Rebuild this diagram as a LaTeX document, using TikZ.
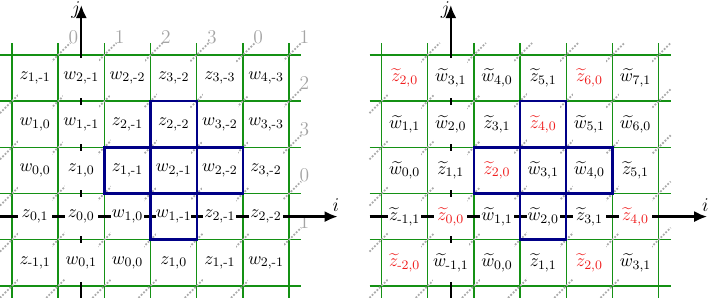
\documentclass[tikz,border=0pt]{standalone}
\usepackage{amsmath}
\usetikzlibrary{arrows.meta}
\definecolor{gridgreen}{RGB}{20,145,20}
\definecolor{navyb}{RGB}{0,0,135}
\definecolor{diagc}{RGB}{170,170,170}
\definecolor{numc}{RGB}{165,165,165}
\definecolor{redc}{RGB}{240,30,30}
\newcommand{\mneg}{\text{-}}
\newcommand{\tw}{\widetilde{w}}
\newcommand{\tz}{\widetilde{z}}
\begin{document}
\begin{tikzpicture}[
  gridline/.style={gridgreen, line width=0.9pt},
  diagline/.style={diagc, line width=1.1pt, densely dotted},
  axisline/.style={line width=1.4pt, -{Latex[length=2.8mm,width=2.4mm]}},
  cell/.style={fill=white, inner sep=0pt, minimum width=0.72cm, minimum height=0.85cm, font=\fontsize{11}{13}\selectfont},
  rcell/.style={cell, text=redc},
  hl/.style={navyb, line width=1.5pt},
  num/.style={numc, font=\large, inner sep=0pt},
  axlbl/.style={font=\large, inner sep=0pt}
]
\useasboundingbox (-0.26,-0.26) rectangle (15.09,6.19);

% grids and diagonals
\foreach \ox in {0,8} {
  \foreach \x in {0,...,6} \draw[gridline] (\ox+\x,-0.26) -- (\ox+\x,5.26);
  \foreach \y in {0,...,5} \draw[gridline] (\ox-0.26,\y) -- (\ox+6.26,\y);
  \foreach \c in {4,3,...,-5} {
    \pgfmathsetmacro\sx{max(-0.26,-0.26-\c)}
    \pgfmathsetmacro\sy{\sx+\c}
    \pgfmathsetmacro\ex{min(6,5-\c)}
    \pgfmathsetmacro\ey{\ex+\c}
    \draw[diagline] (\ox+\sx,\sy) -- (\ox+\ex+0.26,\ey+0.26);
  }
}
% gray numbers (left panel only)
\foreach \c in {4,3,...,-5} {
  \pgfmathsetmacro\ex{min(6,5-\c)}
  \pgfmathsetmacro\ey{\ex+\c}
  \pgfmathtruncatemacro\dg{mod(4-\c,4)}
  \node[num] (n\dg\c) at (\ex+0.33,\ey+0.39) {\dg};
}

% axes
\foreach \ox/\p in {0/a,8/b} {
  \coordinate (jb\p) at (\ox+1.5,-0.26);
  \coordinate (jt\p) at (\ox+1.5,6.08);
  \coordinate (ib\p) at (\ox-0.26,1.5);
  \coordinate (it\p) at (\ox+7.05,1.5);
  \draw[axisline] (jb\p) -- (jt\p);
  \draw[axisline] (ib\p) -- (it\p);
}

% left panel labels
\node[cell] (a00) at (0.5,4.5) {$z_{1,\mneg1}$};
\node[cell] (a01) at (1.5,4.5) {$w_{2,\mneg1}$};
\node[cell] (a02) at (2.5,4.5) {$w_{2,\mneg2}$};
\node[cell] (a03) at (3.5,4.5) {$z_{3,\mneg2}$};
\node[cell] (a04) at (4.5,4.5) {$z_{3,\mneg3}$};
\node[cell] (a05) at (5.5,4.5) {$w_{4,\mneg3}$};
\node[cell] (a10) at (0.5,3.5) {$w_{1,0}$};
\node[cell] (a11) at (1.5,3.5) {$w_{1,\mneg1}$};
\node[cell] (a12) at (2.5,3.5) {$z_{2,\mneg1}$};
\node[cell] (a13) at (3.5,3.5) {$z_{2,\mneg2}$};
\node[cell] (a14) at (4.5,3.5) {$w_{3,\mneg2}$};
\node[cell] (a15) at (5.5,3.5) {$w_{3,\mneg3}$};
\node[cell] (a20) at (0.5,2.5) {$w_{0,0}$};
\node[cell] (a21) at (1.5,2.5) {$z_{1,0}$};
\node[cell] (a22) at (2.5,2.5) {$z_{1,\mneg1}$};
\node[cell] (a23) at (3.5,2.5) {$w_{2,\mneg1}$};
\node[cell] (a24) at (4.5,2.5) {$w_{2,\mneg2}$};
\node[cell] (a25) at (5.5,2.5) {$z_{3,\mneg2}$};
\node[cell] (a30) at (0.5,1.5) {$z_{0,1}$};
\node[cell] (a31) at (1.5,1.5) {$z_{0,0}$};
\node[cell] (a32) at (2.5,1.5) {$w_{1,0}$};
\node[cell] (a33) at (3.5,1.5) {$w_{1,\mneg1}$};
\node[cell] (a34) at (4.5,1.5) {$z_{2,\mneg1}$};
\node[cell] (a35) at (5.5,1.5) {$z_{2,\mneg2}$};
\node[cell] (a40) at (0.5,0.5) {$z_{\mneg1,1}$};
\node[cell] (a41) at (1.5,0.5) {$w_{0,1}$};
\node[cell] (a42) at (2.5,0.5) {$w_{0,0}$};
\node[cell] (a43) at (3.5,0.5) {$z_{1,0}$};
\node[cell] (a44) at (4.5,0.5) {$z_{1,\mneg1}$};
\node[cell] (a45) at (5.5,0.5) {$w_{2,\mneg1}$};

% right panel labels
\node[rcell] (b00) at (8.5,4.5) {$\tz_{2,0}$};
\node[cell] (b01) at (9.5,4.5) {$\tw_{3,1}$};
\node[cell] (b02) at (10.5,4.5) {$\tw_{4,0}$};
\node[cell] (b03) at (11.5,4.5) {$\tz_{5,1}$};
\node[rcell] (b04) at (12.5,4.5) {$\tz_{6,0}$};
\node[cell] (b05) at (13.5,4.5) {$\tw_{7,1}$};
\node[cell] (b10) at (8.5,3.5) {$\tw_{1,1}$};
\node[cell] (b11) at (9.5,3.5) {$\tw_{2,0}$};
\node[cell] (b12) at (10.5,3.5) {$\tz_{3,1}$};
\node[rcell] (b13) at (11.5,3.5) {$\tz_{4,0}$};
\node[cell] (b14) at (12.5,3.5) {$\tw_{5,1}$};
\node[cell] (b15) at (13.5,3.5) {$\tw_{6,0}$};
\node[cell] (b20) at (8.5,2.5) {$\tw_{0,0}$};
\node[cell] (b21) at (9.5,2.5) {$\tz_{1,1}$};
\node[rcell] (b22) at (10.5,2.5) {$\tz_{2,0}$};
\node[cell] (b23) at (11.5,2.5) {$\tw_{3,1}$};
\node[cell] (b24) at (12.5,2.5) {$\tw_{4,0}$};
\node[cell] (b25) at (13.5,2.5) {$\tz_{5,1}$};
\node[cell] (b30) at (8.5,1.5) {$\tz_{\mneg1,1}$};
\node[rcell] (b31) at (9.5,1.5) {$\tz_{0,0}$};
\node[cell] (b32) at (10.5,1.5) {$\tw_{1,1}$};
\node[cell] (b33) at (11.5,1.5) {$\tw_{2,0}$};
\node[cell] (b34) at (12.5,1.5) {$\tz_{3,1}$};
\node[rcell] (b35) at (13.5,1.5) {$\tz_{4,0}$};
\node[rcell] (b40) at (8.5,0.5) {$\tz_{\mneg2,0}$};
\node[cell] (b41) at (9.5,0.5) {$\tw_{\mneg1,1}$};
\node[cell] (b42) at (10.5,0.5) {$\tw_{0,0}$};
\node[cell] (b43) at (11.5,0.5) {$\tz_{1,1}$};
\node[rcell] (b44) at (12.5,0.5) {$\tz_{2,0}$};
\node[cell] (b45) at (13.5,0.5) {$\tw_{3,1}$};

% highlighted plus shapes
\foreach \ox in {0,8} {
  \draw[hl] (\ox+3,3) rectangle (\ox+4,4);
  \draw[hl] (\ox+2,2) rectangle (\ox+3,3);
  \draw[hl] (\ox+3,2) rectangle (\ox+4,3);
  \draw[hl] (\ox+4,2) rectangle (\ox+5,3);
  \draw[hl] (\ox+3,1) rectangle (\ox+4,2);
}

% axis labels
\node[axlbl] (ja) at (1.38,5.97) {$j$};
\node[axlbl] (ia) at (7.01,1.75) {$i$};
\node[axlbl] (jbl) at (9.38,5.97) {$j$};
\node[axlbl] (ibl) at (15.01,1.75) {$i$};
\end{tikzpicture}
\end{document}
